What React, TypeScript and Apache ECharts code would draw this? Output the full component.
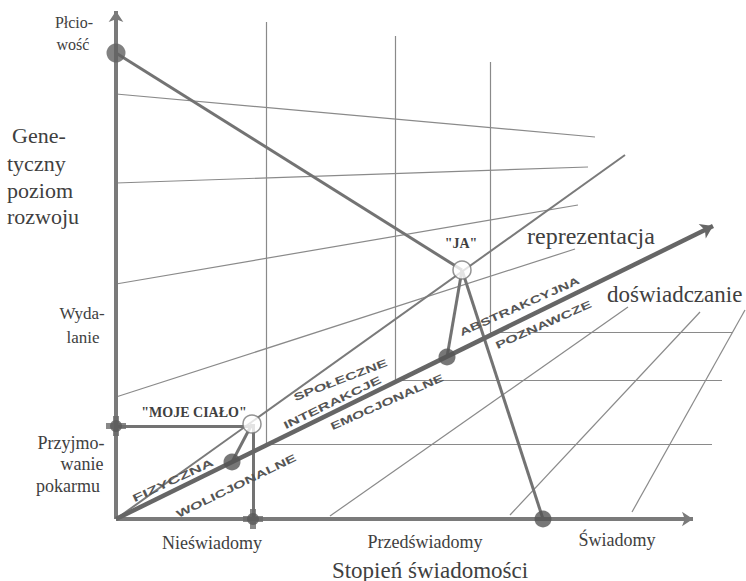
import React, { useEffect, useRef } from "react";
import * as echarts from "echarts";

// Coordinate space: x = stopień świadomości, y = genetyczny poziom rozwoju (diagram units)
const axisXEnd = [577, 0];
const axisYEnd = [0, 508];
const reprezentacjaEnd = [509, 364];
const doswiadczanieEnd = [597, 293];

// projection guides rising from the "doświadczanie" line
const guideX = [150, 279, 374];
const guideBottom = [75, 139, 187];
const guideTop = [497, 483, 457];
const guideRight = [596, 606, 616];

// fan lines starting on the vertical axis
const fanStartY = [425, 336, 235, 122];
const fanEnd = [
  [479, 382],
  [472, 352],
  [462, 314],
  [459, 270],
];

// oblique thin lines in the lower right
const diagonals = [
  [[214, 3], [512, 212]],
  [[394, 4], [584, 207]],
  [[516, 7], [629, 209]],
];

// key points
const plciowosc = [0, 466];
const przyjmowanie = [0, 93];
const nieswiadomy = [137, 0];
const swiadomy = [427, 0];
const mojeCialo = [136, 95];
const ja = [346, 249];
const dotFizyczna = [116, 57];
const dotAbstrakcyjna = [331, 162];

const darkDots = [dotFizyczna, dotAbstrakcyjna, swiadomy];
const bigDots = [plciowosc];
const crossMarks = [przyjmowanie, nieswiadomy];
const openCircles = [mojeCialo, ja];

const serif = "Liberation Serif";
const sans = "Liberation Sans";
const TXT = "#404040";

type Lbl = [string, number, number, number, string?, string?];
// text, x, y, fontSize, align, weight
const serifLabels: Lbl[] = [
  ["Płcio-", 74, 22, 16, "center"],
  ["wość", 73, 44, 16, "center"],
  ["Gene-", 12, 135, 22, "left"],
  ["tyczny", 7, 163, 22, "left"],
  ["poziom", 7, 190, 22, "left"],
  ["rozwoju", 7, 216, 22, "left"],
  ["Wyda-", 82, 313, 17, "center"],
  ["lanie", 83, 337, 17, "center"],
  ["Przyjmo-", 71, 443, 18, "center"],
  ["wanie", 82, 464, 18, "center"],
  ["pokarmu", 68, 486, 18, "center"],
  ["\"MOJE CIAŁO\"", 194, 412, 14, "center", "bold"],
  ["\"JA\"", 461, 243, 14, "center", "bold"],
  ["reprezentacja", 527, 236, 24, "left"],
  ["doświadczanie", 607, 294, 23, "left"],
  ["Nieświadomy", 212, 543, 18, "center"],
  ["Przedświadomy", 425, 542, 18, "center"],
  ["Świadomy", 617, 540, 18, "center"],
  ["Stopień świadomości", 430, 570, 23, "center"],
];

type Rot = [string, number, number, number, number];
// text, x, y, angle(deg), scaleX
const rotLabels: Rot[] = [
  ["FIZYCZNA", 133, 499, 25, 1.7],
  ["WOLICJONALNE", 177, 515, 26, 1.55],
  ["INTERAKCJE", 284, 426, 26, 1.6],
  ["SPOŁECZNE", 294, 398, 21, 1.55],
  ["EMOCJONALNE", 331, 427, 24, 1.5],
  ["ABSTRAKCYJNA", 460, 333, 24, 1.5],
  ["POZNAWCZE", 496, 346, 24, 1.55],
];

function seg(a: number[], b: number[]) {
  return { coords: [a, b] };
}

export default function App() {
  const ref = useRef<HTMLDivElement>(null);
  useEffect(() => {
    if (!ref.current) return;
    const chart = echarts.init(ref.current, undefined, { renderer: "svg" });

    const thin: any[] = [];
    guideX.forEach((x, i) => {
      thin.push(seg([x, guideBottom[i]], [x, guideTop[i]]));
      thin.push(seg([x, guideBottom[i]], [guideRight[i], guideBottom[i]]));
    });
    fanStartY.forEach((y, i) => thin.push(seg([0, y], fanEnd[i])));
    diagonals.forEach((d) => thin.push(seg(d[0], d[1])));

    const connectors = [
      seg(plciowosc, ja),
      seg(ja, dotAbstrakcyjna),
      seg(ja, swiadomy),
      seg(mojeCialo, dotFizyczna),
      seg(przyjmowanie, [mojeCialo[0], przyjmowanie[1]]),
      seg(nieswiadomy, [nieswiadomy[0], mojeCialo[1]]),
    ];

    const graphic: any[] = [];
    serifLabels.forEach(([t, x, y, fs, al, fw]) => {
      graphic.push({
        type: "text",
        x,
        y,
        z: 100,
        style: {
          text: t,
          fill: TXT,
          fontSize: fs,
          fontFamily: serif,
          fontWeight: fw || "normal",
          align: al,
          verticalAlign: "middle",
          textAlign: al,
          textVerticalAlign: "middle",
        },
      });
    });
    rotLabels.forEach(([t, x, y, ang, sx]) => {
      graphic.push({
        type: "text",
        x,
        y,
        z: 100,
        rotation: (ang * Math.PI) / 180,
        scaleX: sx,
        style: {
          text: t,
          fill: "#555555",
          fontSize: 10.5,
          fontFamily: sans,
          fontWeight: "bold",
          align: "left",
          verticalAlign: "middle",
          textAlign: "left",
          textVerticalAlign: "middle",
        },
      });
    });

    chart.setOption({
      animation: false,
      backgroundColor: "#ffffff",
      grid: { left: 116, top: 0, width: 630, height: 519 },
      xAxis: { type: "value", min: 0, max: 630, show: false },
      yAxis: { type: "value", min: 0, max: 519, show: false },
      graphic,
      series: [
        {
          type: "lines",
          coordinateSystem: "cartesian2d",
          clip: false,
          z: 1,
          symbol: "none",
          lineStyle: { color: "#8a8a8a", width: 1.2, opacity: 1 },
          data: thin,
        },
        {
          type: "lines",
          coordinateSystem: "cartesian2d",
          clip: false,
          z: 2,
          symbol: "none",
          lineStyle: { color: "#7a7a7a", width: 2, opacity: 1 },
          data: [seg([0, 0], reprezentacjaEnd)],
        },
        {
          type: "lines",
          coordinateSystem: "cartesian2d",
          clip: false,
          z: 3,
          symbol: "none",
          lineStyle: { color: "#737373", width: 3, opacity: 1 },
          data: connectors,
        },
        {
          type: "lines",
          coordinateSystem: "cartesian2d",
          clip: false,
          z: 4,
          symbol: ["none", "arrow"],
          symbolSize: 11,
          lineStyle: { color: "#7a7a7a", width: 4, opacity: 1 },
          data: [seg([0, 0], axisXEnd), seg([0, 0], axisYEnd)],
        },
        {
          type: "lines",
          coordinateSystem: "cartesian2d",
          clip: false,
          z: 4,
          symbol: ["none", "arrow"],
          symbolSize: 12,
          lineStyle: { color: "#666666", width: 4.5, opacity: 1 },
          data: [seg([0, 0], doswiadczanieEnd)],
        },
        {
          type: "scatter",
          clip: false,
          z: 6,
          symbol: "circle",
          symbolSize: 17,
          itemStyle: { color: "#555555" },
          data: darkDots,
        },
        {
          type: "scatter",
          clip: false,
          z: 6,
          symbol: "circle",
          symbolSize: 19,
          itemStyle: { color: "#616161" },
          data: bigDots,
        },
        {
          type: "scatter",
          clip: false,
          z: 6,
          symbol: "path://M3.5,0L6.5,0L6.5,3.5L10,3.5L10,6.5L6.5,6.5L6.5,10L3.5,10L3.5,6.5L0,6.5L0,3.5L3.5,3.5Z",
          symbolSize: 20,
          itemStyle: { color: "#6a6a6a" },
          data: crossMarks,
        },
        {
          type: "scatter",
          clip: false,
          z: 7,
          symbol: "circle",
          symbolSize: 12,
          itemStyle: { color: "#5a5a5a" },
          data: crossMarks,
        },
        {
          type: "scatter",
          clip: false,
          z: 8,
          symbol: "circle",
          symbolSize: 18,
          itemStyle: { color: "#ffffff", borderColor: "#777777", borderWidth: 1.5 },
          data: openCircles,
        },
      ],
    });
    return () => chart.dispose();
  }, []);

  return (
    <div
      ref={ref}
      style={{ position: "fixed", left: 0, top: 0, width: 746, height: 581, background: "#fff" }}
    />
  );
}
